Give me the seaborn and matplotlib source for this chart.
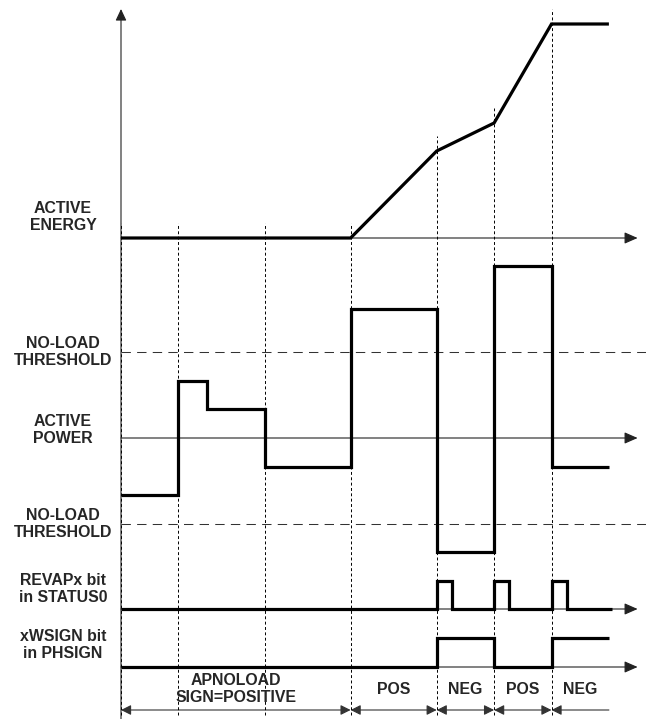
"""Timing diagram: active energy, active power, REVAPx and xWSIGN bits."""
import numpy as np
import pandas as pd
import matplotlib
matplotlib.use("Agg")
import matplotlib.pyplot as plt
from matplotlib.patches import FancyArrowPatch
import seaborn as sns

# time axis (arbitrary units), event boundaries
edges = [0, 2, 5, 8, 11, 13, 15]
t_end = 17
t_axis = 18

# active energy (relative to its axis)
energy_t = [0, 8, 11, 13, 15, 17]
energy_v = [0, 0, 87, 115, 214, 214]

# active power (relative to its axis), step-post
power_t = [0, 2, 3, 5, 8, 11, 13, 15, 17]
power_v = [-57, 57, 29, -29, 129, -114, 172, -29, -29]
threshold = 86

# REVAPx pulses
revap_starts = [11, 13, 15]
revap_width = 0.53
revap_high = 28

# xWSIGN, step-post
sign_t = [0, 11, 13, 15, 17]
sign_v = [0, 29, 0, 29, 29]

# section labels along the bottom
sections = [0, 8, 11, 13, 15, 17]
section_labels = ["APNOLOAD\nSIGN=POSITIVE", "POS", "NEG", "POS", "NEG"]

# baselines of each trace (vertical layout)
base_energy = 481
base_power = 281
base_revap = 110
base_sign = 52
base_arrows = 9

sns.set_theme(style="white")
plt.rcParams["font.family"] = ["Liberation Sans", "DejaVu Sans"]

PX = 28.7  # pixels per time unit
fig = plt.figure(figsize=(6.46, 7.19), dpi=100)
ax = fig.add_axes([0, 0, 1, 1])
ax.set_xlim(-121 / PX, (646 - 121) / PX)
ax.set_ylim(0, 719)
ax.axis("off")

thick = dict(color="black", lw=2.3, solid_joinstyle="miter", solid_capstyle="butt")
font = dict(ha="center", va="center", fontsize=11.4, fontweight="bold", linespacing=1.2)


def axis_arrow(y):
    ax.add_patch(FancyArrowPatch((0, y), (t_axis, y), arrowstyle="-|>,head_length=0.8,head_width=0.35",
                                 mutation_scale=10, color="#222222", lw=0.8, shrinkA=0, shrinkB=0))


# vertical axis
ax.add_patch(FancyArrowPatch((0, 0), (0, 710), arrowstyle="-|>,head_length=0.7,head_width=0.33",
                             mutation_scale=10, color="#222222", lw=0.8, shrinkA=0, shrinkB=0))

# dashed event markers, starting just above the energy curve
energy_at = np.interp(edges, energy_t, energy_v)
for t, e in zip(edges, energy_at):
    ax.plot([t, t], [4, base_energy + e + 15], color="black", lw=0.7, linestyle=(0, (3, 2.5)))

# horizontal axes
for y in [base_energy, base_power, base_revap, base_sign]:
    axis_arrow(y)

# no-load thresholds
for y in [base_power + threshold, base_power - threshold]:
    ax.plot([0, 18.3], [y, y], color="#333333", lw=0.75, linestyle=(0, (9, 6)))

# energy
df_e = pd.DataFrame({"t": energy_t, "v": np.array(energy_v) + base_energy})
sns.lineplot(data=df_e, x="t", y="v", ax=ax, estimator=None, sort=False, **thick)

# power
df_p = pd.DataFrame({"t": power_t, "v": np.array(power_v) + base_power})
sns.lineplot(data=df_p, x="t", y="v", ax=ax, estimator=None, sort=False, drawstyle="steps-post", **thick)

# REVAPx
rt, rv = [0], [0]
for s in revap_starts:
    rt += [s, s + revap_width]
    rv += [revap_high, 0]
rt.append(t_end + 0.1)
rv.append(0)
df_r = pd.DataFrame({"t": rt, "v": np.array(rv) + base_revap})
sns.lineplot(data=df_r, x="t", y="v", ax=ax, estimator=None, sort=False, drawstyle="steps-post", **thick)

# xWSIGN
df_s = pd.DataFrame({"t": sign_t, "v": np.array(sign_v) + base_sign})
sns.lineplot(data=df_s, x="t", y="v", ax=ax, estimator=None, sort=False, drawstyle="steps-post", **thick)

# bottom section arrows
for i, (a, b) in enumerate(zip(sections[:-1], sections[1:])):
    style = "<|-|>" if i < len(sections) - 2 else "<|-"
    ax.add_patch(FancyArrowPatch((a, base_arrows), (b, base_arrows),
                                 arrowstyle=f"{style},head_length=0.6,head_width=0.3",
                                 mutation_scale=10, color="#333333", lw=0.8, shrinkA=0, shrinkB=0))
    ax.text((a + b) / 2, base_arrows + 21, section_labels[i], **font)

# trace labels
lab_x = -2.02
labels = [
    ("ACTIVE\nENERGY", base_energy + 21),
    ("NO-LOAD\nTHRESHOLD", base_power + threshold),
    ("ACTIVE\nPOWER", base_power + 8),
    ("NO-LOAD\nTHRESHOLD", base_power - threshold),
    ("REVAPx bit\nin STATUS0", base_revap + 20),
    ("xWSIGN bit\nin PHSIGN", base_sign + 22),
]
for txt, y in labels:
    ax.text(lab_x, y, txt, **font)

fig.savefig("out.png", dpi=100)
plt.close()
